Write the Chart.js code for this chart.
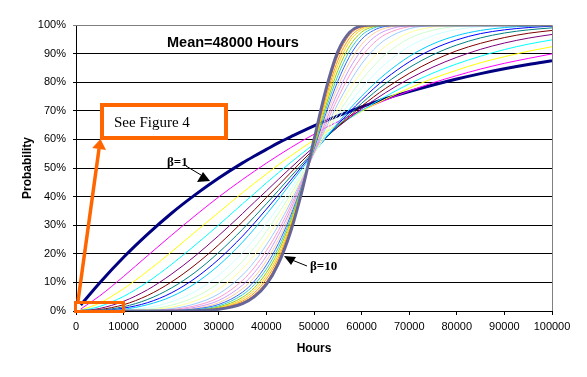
<!DOCTYPE html>
<html><head><meta charset="utf-8">
<script src="https://cdn.jsdelivr.net/npm/chart.js@4.4.1/dist/chart.umd.min.js"></script>
<style>html,body{margin:0;padding:0;background:#fff;}canvas{display:block;}</style>
</head><body>
<canvas id="c" width="587" height="377"></canvas>
<script>
// Hours (x values)
const hours = [1000,5000,10000,15000,20000,25000,30000,35000,37500,40000,42500,45000,47500,50000,52500,55000,57500,60000,62500,65000,70000,75000,80000,85000,90000,95000,100000];
// Shape parameter of each curve
const betas = ['1','1.25','1.5','1.75','2','2.25','2.5','2.75','3','3.5','4','4.5','5','5.5','6','6.5','7','7.5','8','8.5','9','9.5','10'];
// Probability (%), one array per curve
const b100 = [2.1,9.9,18.8,26.8,34.1,40.6,46.5,51.8,54.2,56.5,58.8,60.8,62.8,64.7,66.5,68.2,69.8,71.4,72.8,74.2,76.7,79.0,81.1,83.0,84.7,86.2,87.5];
const b125 = [0.7,5.3,12.1,19.3,26.4,33.3,39.9,46.0,48.9,51.7,54.4,57.0,59.5,61.8,64.1,66.2,68.2,70.2,72.0,73.7,76.9,79.8,82.3,84.6,86.6,88.3,89.9];
const b150 = [0.3,2.8,7.8,13.9,20.6,27.6,34.5,41.4,44.7,47.9,51.1,54.1,57.0,59.8,62.5,65.1,67.5,69.8,72.0,74.1,77.9,81.3,84.2,86.8,88.9,90.8,92.4];
const b175 = [0.1,1.6,5.1,10.1,16.2,23.0,30.1,37.5,41.1,44.8,48.3,51.8,55.1,58.4,61.5,64.5,67.4,70.1,72.6,75.0,79.4,83.2,86.4,89.1,91.4,93.3,94.8];
const b200 = [0.0,0.9,3.4,7.4,12.8,19.2,26.4,34.1,38.1,42.0,46.0,49.9,53.7,57.4,60.9,64.3,67.6,70.7,73.6,76.3,81.2,85.3,88.7,91.5,93.7,95.4,96.7];
const b225 = [0.0,0.5,2.2,5.4,10.1,16.1,23.2,31.2,35.4,39.7,43.9,48.2,52.5,56.6,60.6,64.4,68.1,71.6,74.8,77.8,83.1,87.5,91.0,93.6,95.6,97.1,98.1];
const b250 = [0.0,0.3,1.5,4.0,8.0,13.5,20.5,28.6,33.0,37.5,42.1,46.8,51.4,56.0,60.5,64.7,68.8,72.6,76.2,79.5,85.1,89.6,93.0,95.5,97.2,98.3,99.0];
const b275 = [0.0,0.1,1.0,2.9,6.3,11.4,18.1,26.2,30.8,35.6,40.5,45.5,50.6,55.6,60.5,65.2,69.6,73.8,77.7,81.2,87.1,91.6,94.8,97.0,98.3,99.1,99.6];
const b300 = [0.0,0.1,0.6,2.2,5.0,9.6,16.0,24.1,28.8,33.8,39.0,44.4,49.8,55.3,60.6,65.7,70.6,75.1,79.2,82.9,89.0,93.4,96.3,98.1,99.1,99.6,99.8];
const b350 = [0,0.0,0.3,1.2,3.2,6.8,12.5,20.4,25.3,30.6,36.3,42.4,48.6,54.9,61.2,67.1,72.7,77.9,82.5,86.4,92.5,96.3,98.4,99.4,99.8,99.9,100];
const b400 = [0,0.0,0.1,0.6,2.0,4.9,9.8,17.4,22.2,27.8,34.0,40.6,47.7,54.8,61.9,68.8,75.1,80.8,85.6,89.7,95.3,98.2,99.5,99.9,100,100,100];
const b450 = [0,0.0,0.1,0.4,1.3,3.5,7.7,14.8,19.6,25.3,31.8,39.1,46.9,54.9,62.9,70.6,77.6,83.6,88.6,92.5,97.3,99.3,99.9,100,100,100,100];
const b500 = [0,0,0.0,0.2,0.8,2.5,6.0,12.6,17.3,23.1,29.9,37.7,46.2,55.1,64.0,72.4,80.0,86.4,91.3,94.9,98.7,99.8,100,100,100,100,100];
const b550 = [0,0,0.0,0.1,0.5,1.8,4.7,10.7,15.3,21.1,28.1,36.4,45.6,55.4,65.2,74.4,82.5,88.9,93.6,96.7,99.4,99.9,100,100,100,100,100];
const b600 = [0,0,0.0,0.1,0.3,1.3,3.7,9.1,13.5,19.2,26.5,35.1,45.1,55.7,66.4,76.4,84.8,91.2,95.5,98.0,99.8,100,100,100,100,100,100];
const b650 = [0,0,0,0.0,0.2,0.9,2.9,7.8,11.9,17.6,24.9,34.0,44.6,56.1,67.7,78.4,87.0,93.2,97.0,98.9,99.9,100,100,100,100,100,100];
const b700 = [0,0,0,0.0,0.1,0.7,2.3,6.6,10.5,16.1,23.5,32.9,44.2,56.6,69.1,80.3,89.1,95.0,98.1,99.5,100,100,100,100,100,100,100];
const b750 = [0,0,0,0.0,0.1,0.5,1.8,5.7,9.3,14.7,22.1,31.9,43.8,57.1,70.5,82.2,91.0,96.4,98.9,99.8,100,100,100,100,100,100,100];
const b800 = [0,0,0,0,0.1,0.3,1.4,4.8,8.2,13.4,20.8,30.9,43.4,57.6,71.8,84.1,92.7,97.5,99.4,99.9,100,100,100,100,100,100,100];
const b850 = [0,0,0,0,0.0,0.2,1.1,4.1,7.3,12.3,19.6,29.9,43.1,58.1,73.2,85.9,94.3,98.4,99.7,100,100,100,100,100,100,100,100];
const b900 = [0,0,0,0,0.0,0.2,0.9,3.5,6.4,11.2,18.5,29.0,42.7,58.7,74.6,87.6,95.5,99.0,99.9,100,100,100,100,100,100,100,100];
const b950 = [0,0,0,0,0.0,0.1,0.7,3.0,5.7,10.2,17.5,28.1,42.4,59.3,76.0,89.2,96.6,99.4,99.9,100,100,100,100,100,100,100,100];
const b1000 = [0,0,0,0,0.0,0.1,0.6,2.6,5.0,9.3,16.5,27.3,42.1,59.9,77.4,90.7,97.5,99.7,100,100,100,100,100,100,100,100,100];
const series = [b100,b125,b150,b175,b200,b225,b250,b275,b300,b350,b400,b450,b500,b550,b600,b650,b700,b750,b800,b850,b900,b950,b1000];

// Styles
const colors = ['#000080','#FF00FF','#FFFF00','#00FFFF','#800080','#800000','#008080','#0000FF','#00CCFF','#CCFFFF','#CCFFCC','#FFFF99','#99CCFF','#FF99CC','#CC99FF','#FFCC99','#3366FF','#33CCCC','#99CC00','#FFCC00','#FF9900','#FF6600','#666699'];

const datasets = series.map((vals, i) => ({
  label: 'β=' + betas[i],
  data: hours.map((h, k) => ({x: h, y: vals[k]})),
  borderColor: colors[i],
  borderWidth: (i === 0 || i === series.length - 1) ? 3 : 1,
  pointRadius: 0,
  fill: false,
  cubicInterpolationMode: 'monotone',
  order: series.length - i
}));

const annot = {
  id: 'annot',
  afterDatasetsDraw(chart) {
    const c = chart.ctx, a = chart.chartArea;
    c.save();
    // plot area border (top/right)
    c.strokeStyle = '#808080'; c.lineWidth = 1;
    c.beginPath();
    c.moveTo(a.left, a.top + 0.5); c.lineTo(a.right + 0.5, a.top + 0.5); c.lineTo(a.right + 0.5, a.bottom);
    c.stroke();
    // inner title
    c.fillStyle = '#000';
    c.textBaseline = 'middle'; c.textAlign = 'left';
    c.font = 'bold 14.5px "Liberation Sans", Arial, sans-serif';
    c.fillText('Mean=48000 Hours', 167, 43);
    // beta labels
    c.font = 'bold 13px "Liberation Serif", "Times New Roman", serif';
    c.fillText('β=1', 167, 163);
    c.fillText('β=10', 310, 267);
    c.strokeStyle = '#000'; c.lineWidth = 1;
    c.beginPath(); c.moveTo(186, 166); c.lineTo(201, 175); c.stroke();
    c.beginPath(); c.moveTo(203, 172); c.lineTo(197, 182); c.lineTo(210, 181); c.closePath(); c.fill();
    c.beginPath(); c.moveTo(307, 266); c.lineTo(292, 260); c.stroke();
    c.beginPath(); c.moveTo(284, 256); c.lineTo(296, 257); c.lineTo(291, 265); c.closePath(); c.fill();
    // orange callout
    const org = '#FF6600';
    c.strokeStyle = org; c.fillStyle = org;
    c.lineWidth = 3;
    c.strokeRect(75.5, 302.5, 48, 9);
    c.lineWidth = 3.5;
    c.beginPath(); c.moveTo(78, 301); c.lineTo(99, 149); c.stroke();
    c.beginPath(); c.moveTo(100.5, 139); c.lineTo(106, 150); c.lineTo(92.2, 148); c.closePath(); c.fill();
    c.fillStyle = '#fff';
    c.fillRect(102, 105, 124, 33);
    c.lineWidth = 4;
    c.strokeRect(102, 105, 124, 33);
    c.fillStyle = '#000';
    c.font = '15px "Liberation Serif", "Times New Roman", serif';
    c.fillText('See Figure 4', 114, 123);
    c.restore();
  }
};

Chart.defaults.font.family = '"Liberation Sans", Arial, sans-serif';
Chart.defaults.font.size = 11;
Chart.defaults.color = '#000';

new Chart(document.getElementById('c'), {
  type: 'line',
  data: { datasets },
  plugins: [annot],
  options: {
    responsive: false,
    animation: false,
    layout: { padding: { left: 0, top: 25, right: 35, bottom: 0 } },
    plugins: { legend: { display: false }, tooltip: { enabled: false } },
    scales: {
      x: {
        type: 'linear', min: 0, max: 100000,
        ticks: { stepSize: 10000, padding: 5, maxRotation: 0, autoSkip: false, callback: v => String(v) },
        grid: { drawOnChartArea: false, drawTicks: true, tickLength: 4, color: '#000' },
        border: { color: '#000', width: 1 },
        title: { display: true, text: 'Hours', font: { weight: 'bold', size: 12 }, padding: { top: 0, bottom: 21 } },
        afterFit: s => { s.height = 66; }
      },
      y: {
        min: 0, max: 100,
        ticks: { stepSize: 10, padding: 7, callback: v => v + '%' },
        grid: { color: ctx => (ctx.tick && ctx.tick.value === 100) ? '#808080' : '#000', tickLength: 3, lineWidth: 1 },
        border: { color: '#000', width: 1 },
        title: { display: true, text: 'Probability', font: { weight: 'bold', size: 12 }, padding: { top: 20, bottom: 0 } },
        afterFit: s => { s.width = 76; }
      }
    }
  }
});
</script>
</body></html>
